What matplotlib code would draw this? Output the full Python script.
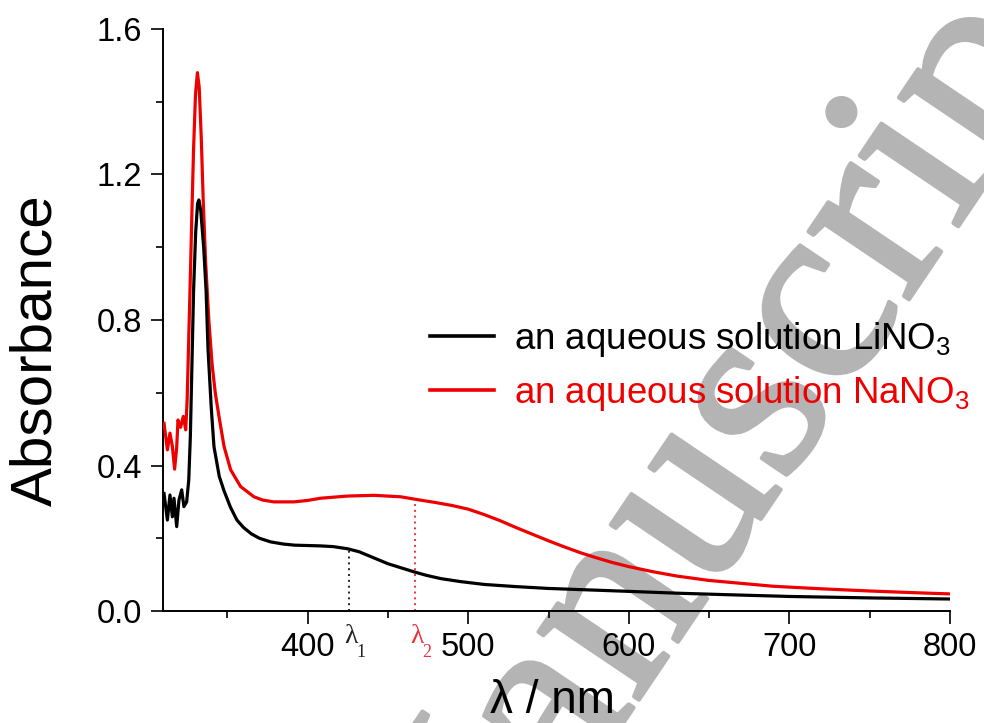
import matplotlib
matplotlib.use('Agg')
import matplotlib.pyplot as plt
import matplotlib.patheffects as PathEffects
import numpy as np

plt.rcParams['font.family'] = ['Liberation Sans', 'DejaVu Sans']
plt.rcParams['mathtext.fontset'] = 'custom'
plt.rcParams['mathtext.rm'] = 'Liberation Sans'
plt.rcParams['mathtext.it'] = 'Liberation Sans'
plt.rcParams['mathtext.bf'] = 'Liberation Sans'

# Spectra (wavelength in nm, absorbance).
wl_li = [310.6, 312.7, 314.3, 315.8, 316.8, 318.5, 319.9, 321.6, 323.0, 324.7,
         326.0, 327.0, 328.0, 329.0, 330.3, 331.5, 332.3, 333.5, 335.3, 336.8,
         338.0, 340.0, 341.7, 345.0, 348.0, 352.0, 356.0, 360.0, 365.0, 370.0,
         377.0, 385.0, 392.0, 400.0, 408.0, 416.0, 425.0, 432.0, 438.0, 444.0,
         450.0, 458.0, 466.0, 474.0, 483.0, 495.0, 510.0, 530.0, 550.0, 575.0,
         600.0, 630.0, 660.0, 700.0, 750.0, 800.0]
abs_li = [0.323, 0.250, 0.319, 0.259, 0.310, 0.232, 0.305, 0.333, 0.287, 0.300,
          0.360, 0.480, 0.680, 0.880, 1.040, 1.120, 1.130, 1.100, 1.000, 0.880,
          0.720, 0.560, 0.452, 0.370, 0.330, 0.285, 0.250, 0.230, 0.212, 0.200,
          0.190, 0.184, 0.181, 0.180, 0.179, 0.177, 0.171, 0.163, 0.152, 0.141,
          0.130, 0.119, 0.108, 0.098, 0.089, 0.081, 0.073, 0.067, 0.062, 0.058,
          0.054, 0.049, 0.045, 0.040, 0.036, 0.033]

wl_na = [310.6, 312.7, 314.3, 315.8, 317.2, 318.5, 319.3, 320.9, 322.6, 324.1,
         325.0, 326.0, 327.0, 328.0, 329.0, 330.2, 331.4, 332.5, 333.8, 335.0,
         336.5, 338.5, 340.5, 342.5, 345.0, 348.0, 352.1, 358.3, 366.6, 372.0,
         379.0, 391.5, 400.0, 408.0, 424.7, 441.3, 457.9, 470.0, 480.0, 490.0,
         500.0, 510.0, 520.0, 530.0, 540.0, 550.0, 560.0, 570.0, 580.0, 590.0,
         600.0, 615.0, 630.0, 650.0, 670.0, 690.0, 720.0, 750.0, 780.0, 800.0]
abs_na = [0.516, 0.443, 0.489, 0.452, 0.390, 0.450, 0.525, 0.505, 0.535, 0.498,
          0.580, 0.750, 0.920, 1.100, 1.270, 1.420, 1.480, 1.440, 1.300, 1.130,
          0.960, 0.800, 0.680, 0.600, 0.530, 0.452, 0.388, 0.342, 0.314, 0.305,
          0.300, 0.300, 0.304, 0.310, 0.316, 0.318, 0.314, 0.305, 0.298, 0.290,
          0.280, 0.265, 0.248, 0.229, 0.211, 0.193, 0.176, 0.160, 0.146, 0.133,
          0.122, 0.108, 0.096, 0.084, 0.076, 0.068, 0.061, 0.055, 0.050, 0.047]

labels = ['an aqueous solution LiNO$_3$', 'an aqueous solution NaNO$_3$']
colors = ['black', '#ee0000']

# Marked wavelengths lambda1 / lambda2 and where the dotted lines stop.
lam_x = [426, 467]
lam_top = [0.175, 0.30]
lam_colors = ['#222222', '#e5343c']
lam_names = ['1', '2']

fig = plt.figure(figsize=(9.84, 7.23), dpi=100)

# Watermark behind everything.
wm = fig.text(0.446, -0.378, 'Manuscript', rotation=56, rotation_mode='anchor',
              ha='left', va='baseline', fontsize=190, family='Liberation Serif',
              color='#b4b4b4', zorder=-5)
wm.set_path_effects([PathEffects.withStroke(linewidth=3, foreground='#b4b4b4')])

ax = fig.add_axes([0.1657, 0.1549, 0.7998, 0.805])
ax.set_facecolor('none')

ax.plot(wl_li, abs_li, color=colors[0], lw=2.3, label=labels[0], zorder=4)
ax.plot(wl_na, abs_na, color=colors[1], lw=2.3, label=labels[1], zorder=3)

for x, top, c, n in zip(lam_x, lam_top, lam_colors, lam_names):
    ax.plot([x, x], [0, top], color=c, lw=1.4, ls=(0, (1, 2)), zorder=2)
    ax.text(x - 3, -0.088, 'λ', color=c, fontsize=20, family='Liberation Serif',
            ha='left', va='baseline', clip_on=False)
    ax.text(x + 4.5, -0.127, n, color=c, fontsize=13, family='Liberation Serif',
            ha='left', va='baseline', clip_on=False)

ax.set_xlim(310, 800)
ax.set_ylim(0, 1.6)
ax.set_xticks([400, 500, 600, 700, 800])
ax.set_xticks([350, 450, 550, 650, 750], minor=True)
ax.set_yticks([0.0, 0.4, 0.8, 1.2, 1.6])
ax.set_yticks([0.2, 0.6, 1.0, 1.4], minor=True)
ax.set_yticklabels(['0.0', '0.4', '0.8', '1.2', '1.6'])

for side in ['top', 'right']:
    ax.spines[side].set_visible(False)
for side in ['left', 'bottom']:
    ax.spines[side].set_linewidth(1.4)

ax.tick_params(which='major', direction='out', length=9, width=1.2,
               labelsize=23.5, pad=6)
ax.tick_params(which='minor', direction='out', length=5, width=1.2)

ax.set_ylabel('Absorbance', fontsize=42)
ax.yaxis.set_label_coords(-0.161, 0.448)
ax.yaxis.label.set_va('center')
ax.set_xlabel('λ / nm', fontsize=33)
ax.xaxis.set_label_coords(0.495, -0.176)
ax.xaxis.label.set_va('baseline')

leg = ax.legend(loc='center left', bbox_to_anchor=(0.339, 0.42), frameon=False,
                fontsize=26.4, handlelength=1.75, handletextpad=0.54,
                labelspacing=0.4, borderpad=0, borderaxespad=0,
                labelcolor='linecolor')
for h in leg.get_lines():
    h.set_linewidth(2.6)

fig.savefig('out.png', dpi=100)
